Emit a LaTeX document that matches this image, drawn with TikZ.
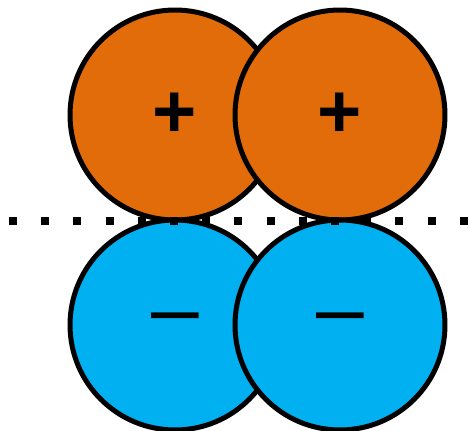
\documentclass[tikz,border=0pt]{standalone}
\usepackage{fontspec}
\setmainfont{Liberation Sans}
\definecolor{posorange}{RGB}{227,108,10}
\definecolor{negblue}{RGB}{0,176,240}

\begin{document}
\begin{tikzpicture}[
    x=0.05cm, y=-0.05cm,
    charge/.style={draw=black, circle, line width=0.25cm, minimum size=10.5cm, inner sep=0pt},
    poscharge/.style={charge, fill=posorange, font=\fontsize{108}{108}\selectfont\bfseries},
    negcharge/.style={charge, fill=negblue, font=\fontsize{122}{122}\selectfont}
]
\useasboundingbox (0,0) rectangle (470,431);
% positive charges
\node[poscharge] (p1) at (175,115) {+};
\node[poscharge] (p2) at (340,115) {+};
% negative charges
\node[negcharge] (n1) at (175,325) {–};
\node[negcharge] (n2) at (340,325) {–};
% boundary
\draw[line width=0.4cm, dash pattern=on 0.4cm off 1.21cm] (9,221) -- (470,221);
\end{tikzpicture}
\end{document}
